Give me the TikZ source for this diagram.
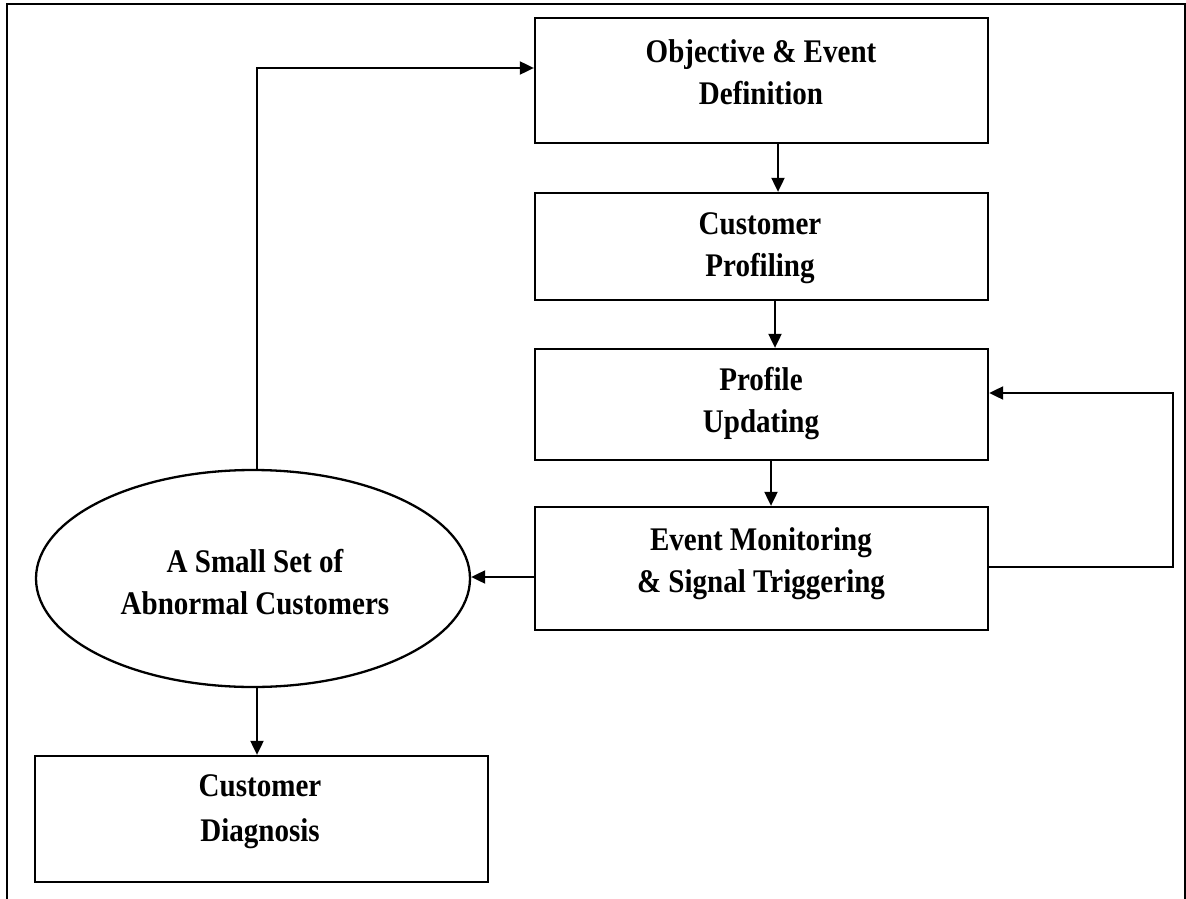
\documentclass[tikz,border=0pt]{standalone}
\usepackage{fontspec}
\setmainfont{Liberation Serif}[FakeStretch=0.88]
\usetikzlibrary{shapes.geometric,arrows.meta}
\begin{document}
\begin{tikzpicture}[x=1pt,y=-1pt,
  box/.style={draw, line width=2.3pt, minimum width=453pt, inner sep=0pt},
  lbl/.style={anchor=north, inner sep=0pt, align=center, font=\fontsize{33}{42}\selectfont\bfseries},
  conn/.style={line width=2pt, -{Triangle[length=14pt,width=13pt]}}]
\useasboundingbox (0,0) rectangle (1186,899);
\draw[line width=2.6pt] (7,900) -- (7,4) -- (1185,4) -- (1185,900);

% boxes
\node[box, minimum height=125pt] (obj) at (761.5,80.5) {};
\node[box, minimum height=107pt] (cp) at (761.5,246.5) {};
\node[box, minimum height=111pt] (pu) at (761.5,404.5) {};
\node[box, minimum height=123pt] (em) at (761.5,568.5) {};
\node[box, minimum height=126pt] (diag) at (261.5,819) {};
\node[draw, ellipse, line width=2.3pt, minimum width=434pt, minimum height=217pt, inner sep=0pt] (ell) at (253,578.5) {};

% texts
\node[lbl] (objt) at (761,39.5) {Objective \& Event\\Definition};
\node[lbl] (cpt) at (760,212.5) {Customer\\Profiling};
\node[lbl] (put) at (761,367.5) {Profile\\Updating};
\node[lbl] (emt) at (761,527.5) {Event Monitoring\\\& Signal Triggering};
\node[lbl] (ellt) at (255,549.5) {A Small Set of\\Abnormal Customers};
\node[lbl, font=\fontsize{33}{45}\selectfont\bfseries] (diagt) at (260,774.5) {Customer\\Diagnosis};

% helper coordinates
\coordinate (fbx) at (257,0);
\coordinate (fby) at (0,68);
\coordinate (a1) at (778,0);
\coordinate (a2) at (775,0);
\coordinate (a3) at (771,0);
\coordinate (ey) at (0,577);
\coordinate (lx) at (1173,0);
\coordinate (ly1) at (0,567);
\coordinate (ly2) at (0,393);

% connectors
\draw[conn] (ell.north -| fbx) |- (obj.west |- fby);
\draw[conn] (obj.south -| a1) -- (cp.north -| a1);
\draw[conn] (cp.south -| a2) -- (pu.north -| a2);
\draw[conn] (pu.south -| a3) -- (em.north -| a3);
\draw[conn] (em.west |- ey) -- (ell.east |- ey);
\draw[conn] (em.east |- ly1) -| (lx |- ly2) -- (pu.east |- ly2);
\draw[conn] (ell.south -| fbx) -- (diag.north -| fbx);
\end{tikzpicture}
\end{document}
